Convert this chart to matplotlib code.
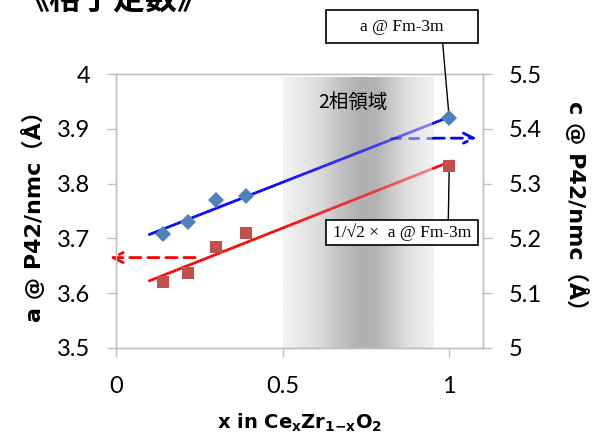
import numpy as np
import matplotlib
matplotlib.use('Agg')
import matplotlib.pyplot as plt
from matplotlib.collections import LineCollection
from matplotlib.patches import Rectangle

# data
x_vals = [0.14, 0.215, 0.30, 0.39, 1.0]
a_vals = [3.621, 3.637, 3.684, 3.710, 3.833]   # red squares (left axis)
c_vals = [5.208, 5.230, 5.270, 5.277, 5.419]   # blue diamonds (right axis)
two_phase = [0.5, 0.952]
a_arrow = [0.237, -0.018, 3.665]
c_arrow = [0.822, 1.082, 5.383]
fit_range = [0.097, 1.01]

# gray band profile
shade_x = [0.50, 0.61, 0.67, 0.73, 0.78, 0.82, 0.88, 0.952]
shade_v = [0.95, 0.86, 0.76, 0.69, 0.70, 0.78, 0.88, 0.95]

tick_font = 'Lato'
lab_font = ['DejaVu Sans', 'Noto Sans CJK JP']
serif = ['Liberation Serif', 'DejaVu Serif']

fig = plt.figure(figsize=(5.95, 4.41), dpi=100)
ax = fig.add_axes([0.195, 0.211, 0.616, 0.621])
ax2 = ax.twinx()

gx = np.linspace(two_phase[0], two_phase[1], 200)
gv = np.interp(gx, shade_x, shade_v)
img = np.tile(gv, (2, 1))
ax.imshow(img, cmap='gray', vmin=0, vmax=1, aspect='auto',
          extent=[two_phase[0], two_phase[1], 3.5, 3.994], zorder=0,
          interpolation='bilinear')


def fade_line(axis, x0, x1, y0, y1, color, lw=2.0):
    xs = np.linspace(x0, x1, 120)
    ys = np.linspace(y0, y1, 120)
    pts = np.array([xs, ys]).T.reshape(-1, 1, 2)
    segs = np.concatenate([pts[:-1], pts[1:]], axis=1)
    mid = (xs[:-1] + xs[1:]) / 2
    alpha = np.ones_like(mid)
    inside = (mid >= two_phase[0]) & (mid < two_phase[1])
    alpha[inside] = 1 - 0.55 * (mid[inside] - two_phase[0]) / (two_phase[1] - two_phase[0])
    rgba = np.array([matplotlib.colors.to_rgba(color)] * len(mid))
    rgba[:, 3] = alpha
    lc = LineCollection(segs, colors=rgba, linewidths=lw, capstyle='butt', zorder=3)
    axis.add_collection(lc)


# trend lines
pa = np.polyfit(x_vals, a_vals, 1)
pc = np.polyfit(x_vals, c_vals, 1)
fade_line(ax, fit_range[0], fit_range[1], np.polyval(pa, fit_range[0]), np.polyval(pa, fit_range[1]), '#ff0000')
fade_line(ax2, fit_range[0], fit_range[1], np.polyval(pc, fit_range[0]), np.polyval(pc, fit_range[1]), '#0000ff')

ax.plot(x_vals, a_vals, 's', color='#C0504D', ms=9, mew=0, zorder=4)
ax2.plot(x_vals, c_vals, 'D', color='#4F81BD', ms=8.5, mew=0, zorder=4)

# dashed arrows
ax.annotate('', xy=(a_arrow[1], a_arrow[2]), xytext=(a_arrow[0], a_arrow[2]),
            arrowprops=dict(arrowstyle='->', color='#ff0000', lw=2, ls=(0, (4, 2.5)),
                            shrinkA=0, shrinkB=0, mutation_scale=18),
            annotation_clip=False, zorder=5)
ax2.plot([c_arrow[0], two_phase[1]], [c_arrow[2]] * 2, color='#0000ff', alpha=0.5,
         lw=2, ls=(0, (4, 2.5)), zorder=3)
ax2.annotate('', xy=(c_arrow[1], c_arrow[2]), xytext=(two_phase[1], c_arrow[2]),
             arrowprops=dict(arrowstyle='->', color='#0000ff', lw=2, ls=(0, (4, 2.5)),
                             shrinkA=0, shrinkB=0, mutation_scale=18),
             annotation_clip=False, zorder=5)

ax.set_xlim(0, 1.1)
ax.set_ylim(3.5, 4.0)
ax2.set_ylim(5.0, 5.5)
ax.set_xticks([0, 0.5, 1])
ax.set_xticklabels(['0', '0.5', '1'])
ax.set_yticks(np.arange(3.5, 4.01, 0.1))
ax.set_yticklabels(['3.5', '3.6', '3.7', '3.8', '3.9', '4'])
ax2.set_yticks(np.arange(5.0, 5.51, 0.1))
ax2.set_yticklabels(['5', '5.1', '5.2', '5.3', '5.4', '5.5'])

for a in (ax, ax2):
    for s in a.spines.values():
        s.set_color('#bfbfbf')
        s.set_linewidth(1)
    a.tick_params(direction='out', length=6.5, width=1, color='#bfbfbf', pad=12,
                  labelsize=17)
    a.tick_params(axis='x', pad=14)
    for lbl in a.get_xticklabels() + a.get_yticklabels():
        lbl.set_family(tick_font)

ax.set_ylabel('a @ P42/nmc（Å）', family=lab_font, fontsize=16, fontweight='bold', labelpad=9)
ax2.set_ylabel('c @ P42/nmc（Å）', family=lab_font, fontsize=16, fontweight='bold',
               rotation=-90, labelpad=34)
ax.set_xlabel(r'x in Ce$_\mathregular{x}$Zr$_\mathregular{1{-}x}$O$_\mathregular{2}$',
              family=lab_font, fontsize=14, fontweight='bold', labelpad=10)

ax.text(0.71, 3.948, '2相領域', family=['Noto Sans CJK JP'], fontsize=14,
        ha='center', va='center', zorder=6)

# callout boxes
fig.add_artist(Rectangle((325.7 / 595, 1 - 43.3 / 441), 152 / 595, 33.3 / 441,
                         transform=fig.transFigure, fill=True, facecolor='white',
                         edgecolor='black', lw=1.2))
fig.text(401.7 / 595, 1 - 26.7 / 441, 'a @ Fm-3m', family=serif, fontsize=12.5,
         ha='center', va='center')
ax2.annotate('', xy=(x_vals[-1], c_vals[-1]), xycoords='data',
             xytext=(442.7 / 595, 1 - 43.3 / 441), textcoords='figure fraction',
             arrowprops=dict(arrowstyle='-', color='black', lw=1, shrinkA=0, shrinkB=3))

fig.add_artist(Rectangle((325.7 / 595, 1 - 245 / 441), 152 / 595, 25 / 441,
                         transform=fig.transFigure, fill=True, facecolor='white',
                         edgecolor='black', lw=1.2, zorder=6))
fig.text(401.7 / 595, 1 - 232.5 / 441, '1/√2 ×  a @ Fm-3m', family=serif, fontsize=12.5,
         ha='center', va='center', zorder=7)
ax.annotate('', xy=(x_vals[-1], a_vals[-1]), xycoords='data',
            xytext=(448.3 / 595, 1 - 220 / 441), textcoords='figure fraction',
            arrowprops=dict(arrowstyle='-', color='black', lw=1, shrinkA=0, shrinkB=5))

fig.text(113 / 595, 1 + 17 / 441, '《格子定数》', family=['Noto Sans CJK JP'],
         fontsize=23, fontweight='bold', ha='center', va='top')

fig.savefig('out.png', dpi=100)
